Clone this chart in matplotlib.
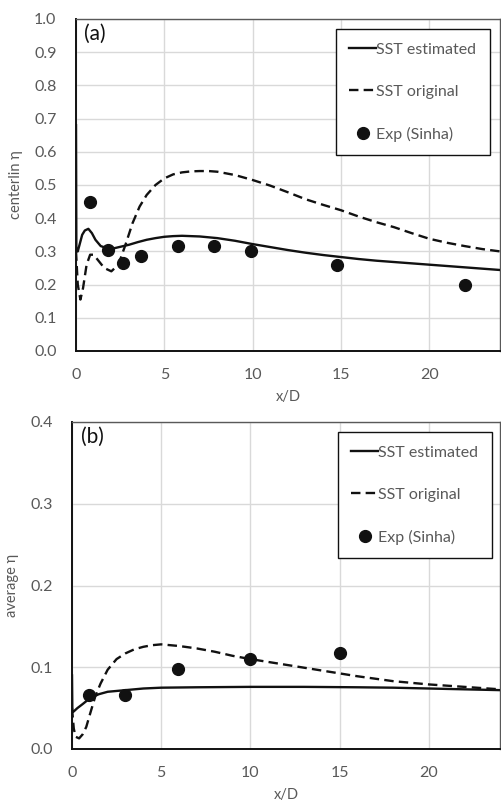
import matplotlib
matplotlib.use("Agg")
import matplotlib.pyplot as plt

plt.rcParams['font.family'] = ['Lato', 'DejaVu Sans']

# ---- Panel (a) data: centerline eta ----
a_est_x = [0, 0.02, 0.1, 0.2, 0.35, 0.5, 0.7, 0.9, 1.1, 1.4, 1.8, 2.2, 2.6, 3.0, 3.5, 4, 4.5, 5, 5.5, 6,
           7, 8, 9, 10, 11, 12, 13, 14, 15, 16, 17, 18, 19, 20, 21, 22, 23, 24]
a_est_y = [0.68, 0.30, 0.30, 0.32, 0.35, 0.363, 0.368, 0.355, 0.335, 0.316, 0.309, 0.31, 0.315, 0.32, 0.328,
           0.335, 0.34, 0.344, 0.346, 0.347, 0.345, 0.34, 0.332, 0.322, 0.313, 0.304, 0.296, 0.289, 0.283,
           0.277, 0.272, 0.268, 0.264, 0.26, 0.256, 0.252, 0.248, 0.244]
a_orig_x = [0, 0.1, 0.25, 0.4, 0.6, 0.8, 1.0, 1.3, 1.6, 2.0, 2.4, 2.8, 3.2, 3.6, 4.0, 4.5, 5.0, 5.5, 6,
            6.5, 7, 7.5, 8, 9, 10, 11, 12, 13, 14, 15, 16, 17, 18, 19, 20, 21, 22, 23, 24]
a_orig_y = [0.30, 0.20, 0.155, 0.19, 0.26, 0.29, 0.29, 0.27, 0.25, 0.24, 0.26, 0.32, 0.385, 0.435, 0.47,
            0.50, 0.52, 0.532, 0.538, 0.541, 0.542, 0.542, 0.54, 0.53, 0.515, 0.498, 0.478, 0.457, 0.44,
            0.424, 0.405, 0.388, 0.373, 0.355, 0.338, 0.326, 0.316, 0.307, 0.30]
a_exp_x = [0.8, 1.8, 2.65, 3.7, 5.8, 7.8, 9.9, 14.8, 22.0]
a_exp_y = [0.45, 0.305, 0.265, 0.285, 0.315, 0.315, 0.30, 0.258, 0.20]

# ---- Panel (b) data: average eta ----
b_est_x = [0, 0.02, 0.1, 0.3, 0.6, 1.0, 1.5, 2, 3, 4, 5, 7, 10, 13, 16, 18, 20, 22, 24]
b_est_y = [0.09, 0.045, 0.046, 0.05, 0.055, 0.062, 0.067, 0.07, 0.072, 0.074, 0.075, 0.0755, 0.076,
           0.076, 0.0755, 0.075, 0.074, 0.073, 0.072]
b_orig_x = [0, 0.1, 0.2, 0.4, 0.6, 0.8, 1.0, 1.3, 1.6, 2.0, 2.5, 3.0, 3.5, 4.0, 4.5, 5, 5.5, 6, 7, 8, 9,
            10, 12, 14, 16, 18, 20, 22, 24]
b_orig_y = [0.05, 0.025, 0.015, 0.013, 0.018, 0.027, 0.042, 0.064, 0.08, 0.097, 0.11, 0.117, 0.122,
            0.125, 0.127, 0.128, 0.127, 0.126, 0.123, 0.119, 0.114, 0.11, 0.103, 0.096, 0.089, 0.083,
            0.079, 0.076, 0.073]
b_exp_x = [0.95, 2.95, 5.95, 10.0, 15.0]
b_exp_y = [0.066, 0.066, 0.098, 0.110, 0.117]

labels = ["SST estimated", "SST original", "Exp (Sinha)"]
panel_tags = ["(a)", "(b)"]
ylabels = ["centerlin η", "average η"]
xlabel = "x/D"

GREY = "#595959"
fig = plt.figure(figsize=(5.01, 8.01), dpi=100)
ax_a = fig.add_axes([76/501, 1 - 351/801, 424/501, 332/801])
ax_b = fig.add_axes([72/501, 1 - 749/801, 428/501, 327/801])

panels = [
    (ax_a, a_est_x, a_est_y, a_orig_x, a_orig_y, a_exp_x, a_exp_y, 1.0, 0.1, "{:.1f}", (1 - 10/424, 1 - 10/332)),
    (ax_b, b_est_x, b_est_y, b_orig_x, b_orig_y, b_exp_x, b_exp_y, 0.4, 0.1, "{:.1f}", (1 - 8/428, 1 - 10/327)),
]

for i, (ax, ex, ey, ox, oy, px, py, ymax, ystep, fmt, anchor) in enumerate(panels):
    ax.plot(ex, ey, color="#111111", lw=1.7, label=labels[0], zorder=3)
    ax.plot(ox, oy, color="#111111", lw=1.7, ls=(0, (4.0, 2.2)), label=labels[1], zorder=3)
    ax.plot(px, py, 'o', color="#111111", ms=8.5, ls='none', label=labels[2], zorder=4)
    ax.set_xlim(0, 24)
    ax.set_ylim(0, ymax)
    ax.set_xticks([0, 5, 10, 15, 20])
    n = int(round(ymax / ystep))
    yt = [k * ystep for k in range(n + 1)]
    ax.set_yticks(yt)
    ax.set_yticklabels([fmt.format(v) for v in yt])
    ax.grid(True, color="#d9d9d9", lw=1.0, zorder=0)
    ax.set_axisbelow(True)
    ax.tick_params(axis='x', length=0, labelsize=11.5, colors=GREY, pad=12)
    ax.tick_params(axis='y', length=0, labelsize=11.5, colors=GREY, pad=14)
    for s in ["top", "right"]:
        ax.spines[s].set_color(GREY)
        ax.spines[s].set_linewidth(1.0)
    for s in ["left", "bottom"]:
        ax.spines[s].set_color("#111111")
        ax.spines[s].set_linewidth(1.4)
    ax.set_xlabel(xlabel, fontsize=10.5, color=GREY, labelpad=6)
    ax.set_ylabel(ylabels[i], fontsize=10.5, color=GREY, labelpad=8)
    ax.text(0.02, 0.985, panel_tags[i], transform=ax.transAxes, fontsize=15,
            va="top", ha="left", color="#111111")
    leg = ax.legend(loc="upper right", bbox_to_anchor=anchor, borderaxespad=0, fontsize=11.5,
                    handlelength=1.7, handletextpad=0.0, labelspacing=1.75,
                    borderpad=0.85, fancybox=False, framealpha=1, edgecolor="#111111",
                    labelcolor=GREY)
    leg.get_frame().set_linewidth(1.0)

fig.savefig("out.png", dpi=100)
